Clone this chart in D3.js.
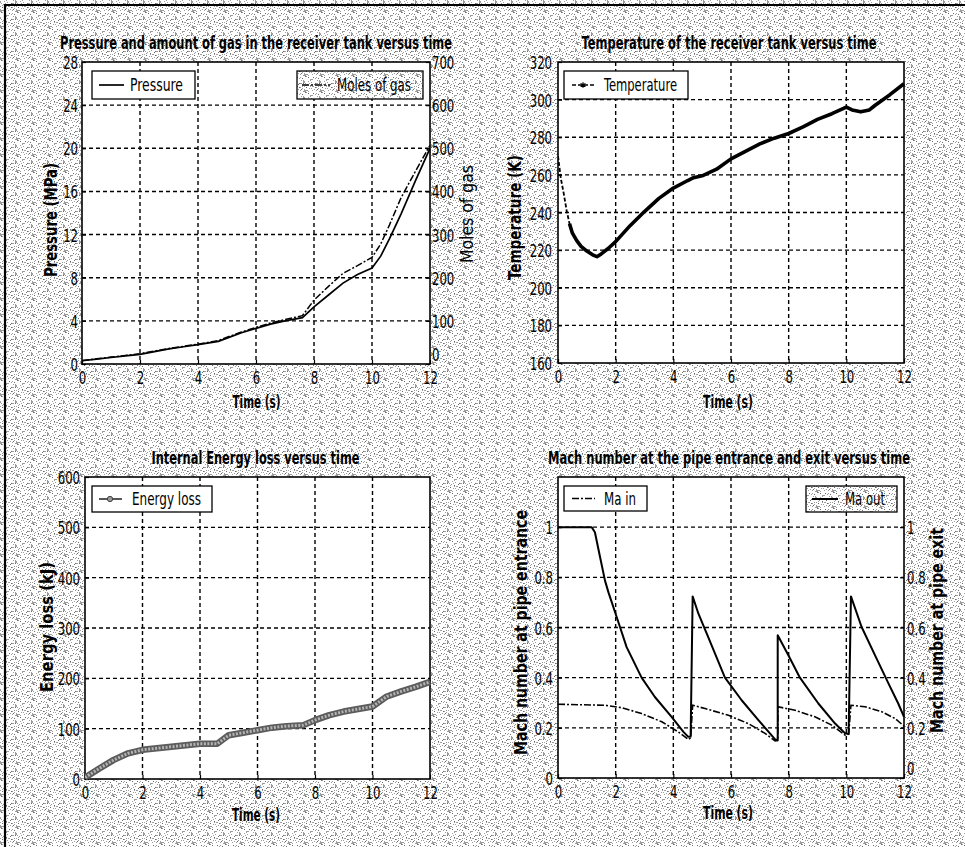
<!DOCTYPE html>
<html>
<head>
<meta charset="utf-8">
<script src="https://cdn.jsdelivr.net/npm/d3@7"></script>
<style>
  html, body { margin: 0; padding: 0; background: #fff; }
  svg { display: block; }
</style>
</head>
<body>
<script>
// ---- data ----
const timeTicks = [0, 2, 4, 6, 8, 10, 12];

const pressureTime = [0, 0.5, 1, 1.5, 2, 2.5, 3, 3.5, 4, 4.7, 5, 5.5, 6, 6.5, 7, 7.6, 8, 8.5, 9, 9.5, 10, 10.3, 10.6, 11, 11.5, 12];
const pressure     = [0.3, 0.45, 0.6, 0.75, 0.9, 1.15, 1.4, 1.6, 1.8, 2.1, 2.4, 2.9, 3.3, 3.7, 4.0, 4.3, 5.3, 6.4, 7.5, 8.3, 8.9, 10.0, 11.6, 13.9, 17.0, 20.0];
const moles        = [8, 12, 16, 20, 24, 30, 36, 41, 46, 54, 62, 74, 85, 95, 103, 112, 148, 180, 210, 228, 247, 278, 322, 385, 447, 507];
const pressureTicks = [0, 4, 8, 12, 16, 20, 24, 28];
const molesTicks = [0, 100, 200, 300, 400, 500, 600, 700];

const tempTime = [0, 0.1, 0.2, 0.3, 0.4, 0.5, 0.65, 0.8, 1.0, 1.2, 1.35, 1.5, 1.75, 2, 2.5, 3, 3.5, 4, 4.5, 4.7, 5, 5.5, 6, 6.5, 7, 7.5, 8, 8.5, 9, 9.5, 10, 10.2, 10.5, 10.8, 11, 11.5, 12];
const temperature = [270, 258, 250, 241, 234, 229, 225, 222, 219.5, 217.5, 216.5, 218, 221, 224.5, 233, 240.5, 247.5, 253, 257, 258.5, 259.5, 263, 268.5, 272.5, 276.5, 279.5, 282, 285.5, 289.5, 292.5, 296, 294.5, 293.5, 294.5, 297, 302.5, 308.5];
const tempTicks = [160, 180, 200, 220, 240, 260, 280, 300, 320];

const energyTime = [0, 0.5, 1, 1.5, 2, 2.5, 3, 3.5, 4, 4.6, 5, 5.5, 6, 6.5, 7, 7.6, 8, 8.5, 9, 9.5, 10, 10.5, 11, 11.5, 12];
const energyLoss = [3, 21, 38, 51, 58, 61, 64, 67, 70, 70, 87, 92, 97, 102, 105, 107, 117, 127, 134, 139, 144, 164, 174, 183, 193];
const energyTicks = [0, 100, 200, 300, 400, 500, 600];

const maOutTime = [0, 1.17, 1.28, 1.46, 1.63, 1.75, 1.98, 2.15, 2.38, 2.9, 3.36, 3.94, 4.35, 4.52, 4.6, 4.67, 4.87, 5.21, 5.79, 6.37, 6.95, 7.53, 7.62, 7.62, 7.99, 8.39, 9.03, 9.61, 9.96, 10.08, 10.16, 10.53, 11.05, 11.46, 11.8, 12];
const maOut     = [1, 1, 0.98, 0.88, 0.787, 0.74, 0.661, 0.602, 0.522, 0.4, 0.323, 0.244, 0.184, 0.164, 0.165, 0.724, 0.655, 0.562, 0.4, 0.31, 0.231, 0.154, 0.15, 0.569, 0.489, 0.4, 0.297, 0.217, 0.178, 0.175, 0.724, 0.602, 0.476, 0.377, 0.297, 0.244];
const maInTime = [0, 1.63, 2.21, 2.9, 3.6, 4.17, 4.52, 4.6, 4.67, 5.1, 5.91, 6.6, 7.18, 7.53, 7.62, 7.63, 8.22, 8.91, 9.49, 9.96, 10.08, 10.16, 10.65, 11.23, 11.69, 12];
const maIn     = [0.294, 0.29, 0.28, 0.257, 0.224, 0.184, 0.154, 0.16, 0.29, 0.277, 0.25, 0.217, 0.178, 0.148, 0.15, 0.284, 0.27, 0.244, 0.211, 0.171, 0.175, 0.29, 0.284, 0.264, 0.237, 0.207];
const machTicks = [0, 0.2, 0.4, 0.6, 0.8, 1];

// ---- drawing ----
const FONT = "'Liberation Sans Narrow','Arial Narrow','DejaVu Sans Condensed','Liberation Sans',sans-serif";

const svg = d3.select("body").append("svg")
  .attr("width", 965)
  .attr("height", 847);

// scanned-print dither texture for the figure background
const defs = svg.append("defs");
const TILE = 16;
const pat = defs.append("pattern")
  .attr("id", "dither")
  .attr("width", TILE).attr("height", TILE)
  .attr("patternUnits", "userSpaceOnUse");
pat.append("rect").attr("width", TILE).attr("height", TILE).attr("fill", "#fff");
let seed = 12345;
const hash = () => (seed = (seed * 1103515245 + 12345) % 2147483648) / 2147483648;
for (let j = 0; j < TILE; j++) {
  for (let i = 0; i < TILE; i++) {
    const h = hash();
    if (h < 0.26) {
      pat.append("rect").attr("x", i).attr("y", j).attr("width", 1).attr("height", 1)
        .attr("fill", h < 0.08 ? "#6a6a6a" : "#9c9c9c");
    }
  }
}

svg.append("rect").attr("width", 965).attr("height", 847).attr("fill", "url(#dither)");

// figure frame (top and left edges only)
svg.append("path")
  .attr("d", "M5,847V5H965")
  .attr("fill", "none")
  .attr("stroke", "#000")
  .attr("stroke-width", 2.2);

// text with the tall narrow look of the original
function txt(parent, str, x, y, o = {}) {
  const g = parent.append("g")
    .attr("transform", `translate(${x},${y}) rotate(${o.rotate || 0}) scale(1,${o.sy || 1.35})`);
  const t = g.append("text")
    .attr("text-anchor", o.anchor || "middle")
    .attr("dy", "0.36em")
    .attr("font-family", FONT)
    .attr("font-size", o.size || 13)
    .attr("font-weight", o.bold ? "bold" : "normal")
    .attr("fill", "#000")
    .text(str);
  if (o.len) t.attr("textLength", o.len).attr("lengthAdjust", "spacingAndGlyphs");
  return t;
}

function styleTicks(axisG, side) {
  axisG.select(".domain").remove();
  axisG.selectAll(".tick line").attr("stroke", "#000").attr("stroke-width", 1.2);
  const t = axisG.selectAll(".tick text")
    .attr("font-family", FONT)
    .attr("font-size", 13)
    .attr("fill", "#000")
    .attr("transform", "scale(1,1.4)");
  if (side === "bottom") t.attr("y", 14).attr("dy", 0);
  else t.attr("dy", "0.36em");
  // the right-hand zero sits above the corner so it clears the "12" below
  if (side === "right") t.filter(d => d === 0).attr("dy", "-0.2em");
}

let clipId = 0;
function makePanel(p) {
  const g = svg.append("g");
  const x = d3.scaleLinear().domain([0, 12]).range([p.left, p.right]);
  const y = d3.scaleLinear().domain(p.yDomain).range([p.bottom, p.top]);

  g.append("rect")
    .attr("x", p.left).attr("y", p.top)
    .attr("width", p.right - p.left).attr("height", p.bottom - p.top)
    .attr("fill", "#fff");

  // dashed grid
  const grid = g.append("g")
    .attr("stroke", "#000")
    .attr("stroke-width", 1.4)
    .attr("stroke-dasharray", "4,3");
  grid.selectAll("line.gx")
    .data(timeTicks.filter(d => d > 0 && d < 12))
    .join("line")
    .attr("class", "gx")
    .attr("x1", d => x(d)).attr("x2", d => x(d))
    .attr("y1", p.top).attr("y2", p.bottom);
  grid.selectAll("line.gy")
    .data(p.yTicks.filter(d => d > p.yDomain[0] && d < p.yDomain[1]))
    .join("line")
    .attr("class", "gy")
    .attr("x1", p.left).attr("x2", p.right)
    .attr("y1", d => y(d)).attr("y2", d => y(d));

  // axes
  const ax = g.append("g")
    .attr("transform", `translate(0,${p.bottom})`)
    .call(d3.axisBottom(x).tickValues(timeTicks).tickSizeInner(-4).tickSizeOuter(0));
  styleTicks(ax, "bottom");

  const ay = g.append("g")
    .attr("transform", `translate(${p.left},0)`)
    .call(d3.axisLeft(y).tickValues(p.yTicks).tickFormat(d3.format("~g"))
      .tickSizeInner(-4).tickSizeOuter(0).tickPadding(p.leftPad || 4));
  styleTicks(ay, "left");

  g.append("rect")
    .attr("x", p.left).attr("y", p.top)
    .attr("width", p.right - p.left).attr("height", p.bottom - p.top)
    .attr("fill", "none")
    .attr("stroke", "#000")
    .attr("stroke-width", 1.6);

  const id = "clip" + (clipId++);
  defs.append("clipPath").attr("id", id)
    .append("rect")
    .attr("x", p.left).attr("y", p.top - 2)
    .attr("width", p.right - p.left + 1).attr("height", p.bottom - p.top + 4);
  const plot = g.append("g").attr("clip-path", `url(#${id})`);

  return { g, x, y, plot };
}

function legendBox(parent, x0, y0, w, h, fill) {
  parent.append("rect")
    .attr("x", x0).attr("y", y0).attr("width", w).attr("height", h)
    .attr("fill", fill)
    .attr("stroke", "#000")
    .attr("stroke-width", 1.3);
}

function sample(parent, x1, x2, y, style) {
  parent.append("line")
    .attr("x1", x1).attr("x2", x2).attr("y1", y).attr("y2", y)
    .attr("stroke", style.color || "#000")
    .attr("stroke-width", style.width || 1.6)
    .attr("stroke-dasharray", style.dash || null);
}

function zip(ts, vs) { return ts.map((t, i) => ({ t, v: vs[i] })); }

// ---- panel 1: pressure & moles ----
{
  const P = makePanel({ left: 82, right: 430, top: 62, bottom: 364, yDomain: [0, 28], yTicks: pressureTicks });
  const yM = d3.scaleLinear().domain([0, 700]).range([364, 62]);
  const ar = P.g.append("g")
    .attr("transform", "translate(430,0)")
    .call(d3.axisRight(yM).tickValues(molesTicks).tickSizeInner(-4).tickSizeOuter(0).tickPadding(2));
  styleTicks(ar, "right");

  const lineP = d3.line().x(d => P.x(d.t)).y(d => P.y(d.v));
  const lineM = d3.line().x(d => P.x(d.t)).y(d => yM(d.v));
  P.plot.append("path").datum(zip(pressureTime, pressure))
    .attr("d", lineP).attr("fill", "none").attr("stroke", "#000").attr("stroke-width", 1.7);
  P.plot.append("path").datum(zip(pressureTime, moles))
    .attr("d", lineM).attr("fill", "none").attr("stroke", "#000").attr("stroke-width", 1.5)
    .attr("stroke-dasharray", "7,2,2,2");

  legendBox(P.g, 92, 71, 103, 28, "#fff");
  sample(P.g, 99, 124, 85, { width: 1.7 });
  txt(P.g, "Pressure", 130, 85, { anchor: "start", len: 53 });
  legendBox(P.g, 297, 71, 126, 28, "url(#dither)");
  sample(P.g, 302, 330, 85, { width: 1.5, dash: "7,2,2,2" });
  txt(P.g, "Moles of gas", 337, 85, { anchor: "start", len: 74 });

  txt(svg, "Pressure and amount of gas in the receiver tank versus time", 256, 42.5, { bold: true, len: 392 });
  txt(svg, "Time (s)", 256.5, 402, { bold: true, len: 48 });
  txt(svg, "Pressure (MPa)", 51, 220, { bold: true, rotate: -90, len: 114 });
  txt(svg, "Moles of gas", 467, 214, { rotate: -90, len: 98 });
}

// ---- panel 2: temperature ----
{
  const P = makePanel({ left: 558, right: 904, top: 62, bottom: 363, yDomain: [160, 320], yTicks: tempTicks, leftPad: 6 });
  const line = d3.line().x(d => P.x(d.t)).y(d => P.y(d.v));
  const data = zip(tempTime, temperature);
  P.plot.append("path").datum(data.filter(d => d.t <= 0.5))
    .attr("d", line).attr("fill", "none").attr("stroke", "#000").attr("stroke-width", 1.8)
    .attr("stroke-dasharray", "4,2");
  P.plot.append("path").datum(data.filter(d => d.t >= 0.4))
    .attr("d", line).attr("fill", "none").attr("stroke", "#000").attr("stroke-width", 3.6)
    .attr("stroke-linejoin", "round");

  legendBox(P.g, 564, 71, 124, 28, "#fff");
  sample(P.g, 572, 595, 85, { width: 1.6, dash: "4,2" });
  P.g.append("path")
    .attr("transform", "translate(583,85)")
    .attr("d", d3.symbol(d3.symbolAsterisk, 22)())
    .attr("stroke", "#000").attr("stroke-width", 1.2);
  txt(P.g, "Temperature", 604, 85, { anchor: "start", len: 73 });

  txt(svg, "Temperature of the receiver tank versus time", 729, 43, { bold: true, len: 295 });
  txt(svg, "Time (s)", 728, 402, { bold: true, len: 50 });
  txt(svg, "Temperature (K)", 515, 217.5, { bold: true, rotate: -90, len: 125 });
}

// ---- panel 3: energy loss ----
{
  const P = makePanel({ left: 85, right: 430, top: 477, bottom: 779, yDomain: [0, 600], yTicks: energyTicks, leftPad: 5 });
  const line = d3.line().x(d => P.x(d.t)).y(d => P.y(d.v));
  const data = zip(energyTime, energyLoss);
  P.plot.append("path").datum(data)
    .attr("d", line).attr("fill", "none").attr("stroke", "#5c5c5c").attr("stroke-width", 6.5)
    .attr("stroke-linejoin", "round");
  P.plot.append("path").datum(data)
    .attr("d", line).attr("fill", "none").attr("stroke", "#b4b4b4").attr("stroke-width", 3)
    .attr("stroke-dasharray", "2,1.5");

  legendBox(P.g, 92, 486, 120, 26, "#fff");
  sample(P.g, 99, 122, 499, { width: 1.8, color: "#444" });
  P.g.append("path")
    .attr("transform", "translate(110,499)")
    .attr("d", d3.symbol(d3.symbolCircle, 22)())
    .attr("fill", "#999").attr("stroke", "#444").attr("stroke-width", 1);
  txt(P.g, "Energy loss", 132, 499, { anchor: "start", len: 69 });

  txt(svg, "Internal Energy loss versus time", 255.5, 457.5, { bold: true, len: 208 });
  txt(svg, "Time (s)", 256, 815, { bold: true, len: 48 });
  txt(svg, "Energy loss (kJ)", 47, 627, { bold: true, rotate: -90, len: 130 });
}

// ---- panel 4: Mach numbers ----
{
  const P = makePanel({ left: 558, right: 904, top: 477, bottom: 778, yDomain: [0, 1.2], yTicks: machTicks, leftPad: 5 });
  const yR = d3.scaleLinear().domain([0, 1.2]).range([778, 477]);
  const ar = P.g.append("g")
    .attr("transform", "translate(904,0)")
    .call(d3.axisRight(yR).tickValues(machTicks).tickFormat(d3.format("~g"))
      .tickSizeInner(-4).tickSizeOuter(0).tickPadding(3));
  styleTicks(ar, "right");

  const line = d3.line().x(d => P.x(d.t)).y(d => P.y(d.v));
  P.plot.append("path").datum(zip(maInTime, maIn))
    .attr("d", line).attr("fill", "none").attr("stroke", "#000").attr("stroke-width", 1.6)
    .attr("stroke-dasharray", "7,2,2,2");
  P.plot.append("path").datum(zip(maOutTime, maOut))
    .attr("d", d3.line().x(d => P.x(d.t)).y(d => yR(d.v)))
    .attr("fill", "none").attr("stroke", "#000").attr("stroke-width", 2)
    .attr("stroke-linejoin", "round");

  legendBox(P.g, 564, 486, 83, 25, "#fff");
  sample(P.g, 572, 595, 498.5, { width: 1.6, dash: "7,2,2,2" });
  txt(P.g, "Ma in", 604, 498.5, { anchor: "start", len: 32 });
  legendBox(P.g, 806, 486, 91, 26, "url(#dither)");
  sample(P.g, 812, 838, 499, { width: 2 });
  txt(P.g, "Ma out", 845, 499, { anchor: "start", len: 40 });

  txt(svg, "Mach number at the pipe entrance and exit versus time", 729, 457.5, { bold: true, len: 362 });
  txt(svg, "Time (s)", 728, 813, { bold: true, len: 50 });
  txt(svg, "Mach number at pipe entrance", 521, 632.5, { bold: true, rotate: -90, len: 245 });
  txt(svg, "Mach number at pipe exit", 937, 630.5, { bold: true, rotate: -90, len: 205 });
}
</script>
</body>
</html>
